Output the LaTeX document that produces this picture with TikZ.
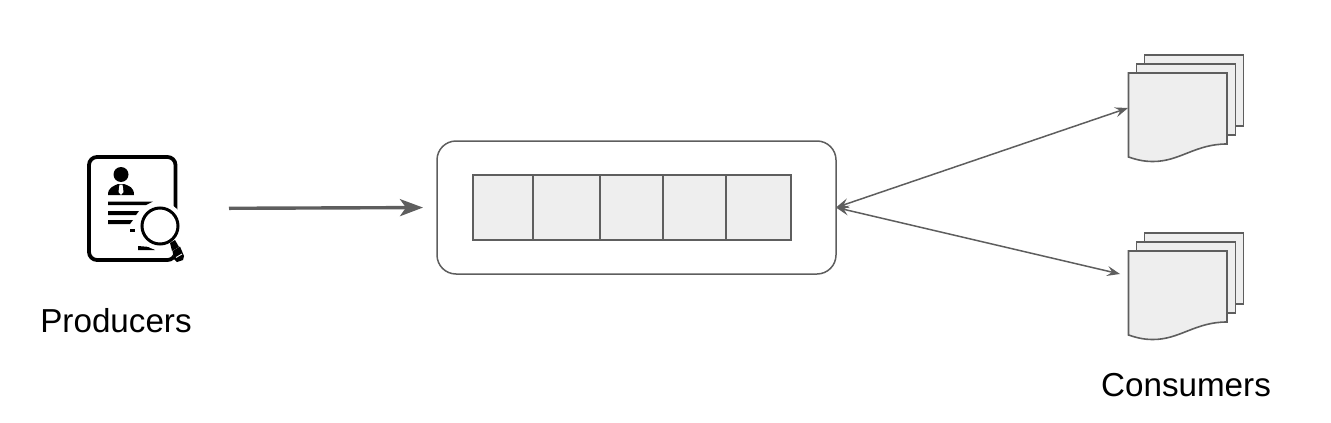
\documentclass[tikz,border=0pt]{standalone}
\usepackage{fontspec}
\setmainfont{Liberation Sans}
\usepackage{xcolor}
\usetikzlibrary{arrows.meta,positioning,calc}

\definecolor{linegray}{HTML}{5E5E5E}
\definecolor{cellgray}{HTML}{EEEEEE}

\tikzset{
  label text/.style={font=\fontsize{33.2}{36}\selectfont, text=black, inner sep=0pt},
  queue box/.style={draw=linegray, line width=1.5pt, rounded corners=19pt, minimum width=399pt, minimum height=133pt, outer sep=0pt},
  cell/.style={draw=linegray, fill=cellgray, line width=2pt, minimum height=65pt, inner sep=0pt, outer sep=0pt},
  sheet/.style={draw=linegray, fill=cellgray, line width=1.6pt, minimum width=99pt, inner sep=0pt, outer sep=0pt},
  flow/.style={draw=linegray, line width=3.4pt, -{Stealth[length=23pt,width=17pt,inset=6pt]}},
  both flow/.style={draw=linegray, line width=1.5pt, {Stealth[length=13pt,width=10pt,inset=5pt]}-{Stealth[length=13pt,width=10pt,inset=5pt]}},
}

% one stack of three sheets, #1 is the name, (#2,#3) the top left of the front sheet
\newcommand{\docstack}[3]{
  \node[sheet, anchor=north west, minimum height=71pt] (#1back) at (#2+16,#3-18) {};
  \node[sheet, anchor=north west, minimum height=71pt] (#1mid) at (#2+8,#3-9) {};
  \node[anchor=north west, minimum width=98.5pt, minimum height=88pt, inner sep=0pt, outer sep=0pt] (#1) at (#2,#3) {};
  \draw[draw=linegray, fill=cellgray, line width=1.6pt] (#1.north west) -- (#1.north east) -- ++(0,71)
    .. controls +(-32,0) and +(27,0) .. ++(-74,17.5)
    .. controls +(-9,0) and +(9,3) .. ++(-24.5,-4.5) -- cycle;
}

\begin{document}
\begin{tikzpicture}[x=1pt, y=-1pt]
  \useasboundingbox (0,0) rectangle (1331,423);

  % producers icon
  \node[minimum width=92pt, minimum height=107pt, inner sep=0pt, outer sep=0pt] (producer) at (133,208.5) {};
  \draw[line width=3.8pt, rounded corners=8pt] (89,157) rectangle (175.5,260);
  \fill (121,174.5) circle (7.5);
  \fill (108,195) .. controls (108,187) and (114,186) .. (118,184) -- (124,184)
    .. controls (129,186) and (134,187) .. (134,195) -- cycle;
  \fill[white] (119.5,184.5) -- (122.5,184.5) -- (123.5,192) -- (121,195) -- (118.5,192) -- cycle;
  \fill (108,201.5) -- (153,201.5) -- (146,205) -- (108,205) -- cycle;
  \fill (108,211) -- (139,211) -- (136,215) -- (108,215) -- cycle;
  \fill (108,220) -- (133,220) -- (130,224) -- (108,224) -- cycle;
  \fill (130,229) -- (135,229) -- (135,232) -- (130,232) -- cycle;
  \fill (138,246) -- (150,247) -- (155,250) -- (138,250) -- cycle;
  % lens, its white ring cuts the frame
  \fill[white] (160,226) circle (24);
  \fill[white] (171,240) -- (181,236) -- (192,262) -- (176,268) -- cycle;
  \draw[line width=3pt, fill=white] (160,226) circle (18);
  \fill (170,243) -- (175,240) -- (179,247) -- (172,251) -- cycle;
  \fill (172.5,251) -- (180,246.5) -- (184,256) -- (183,260) -- (177,262) -- (174,259) -- cycle;
  \draw[white, line width=0.9pt] (176,257.5) -- (182,254);
  \node[label text] (producers) at (116,321) {Producers};

  % queue
  \node[queue box] (queue) at (636.5,207.5) {};
  \node[cell, minimum width=59.5pt, anchor=west] (cella) at (473.3,207.5) {};
  \node[cell, minimum width=67pt, right=0pt of cella] (cellb) {};
  \node[cell, minimum width=63pt, right=0pt of cellb] (cellc) {};
  \node[cell, minimum width=63pt, right=0pt of cellc] (celld) {};
  \node[cell, minimum width=65pt, right=0pt of celld] (celle) {};

  % consumers
  \docstack{docA}{1128.5}{73}
  \docstack{docB}{1128.5}{251}
  \node[label text] (consumers) at (1186,385) {Consumers};

  \coordinate (docAin) at (1128,108);
  \coordinate (docBin) at (1120,274);

  \draw[flow, shorten >=14pt, shorten <=50pt] (producer.east) -- (queue.west);
  \draw[both flow] (queue.east) -- (docAin);
  \draw[both flow] (queue.east) -- (docBin);
\end{tikzpicture}
\end{document}
